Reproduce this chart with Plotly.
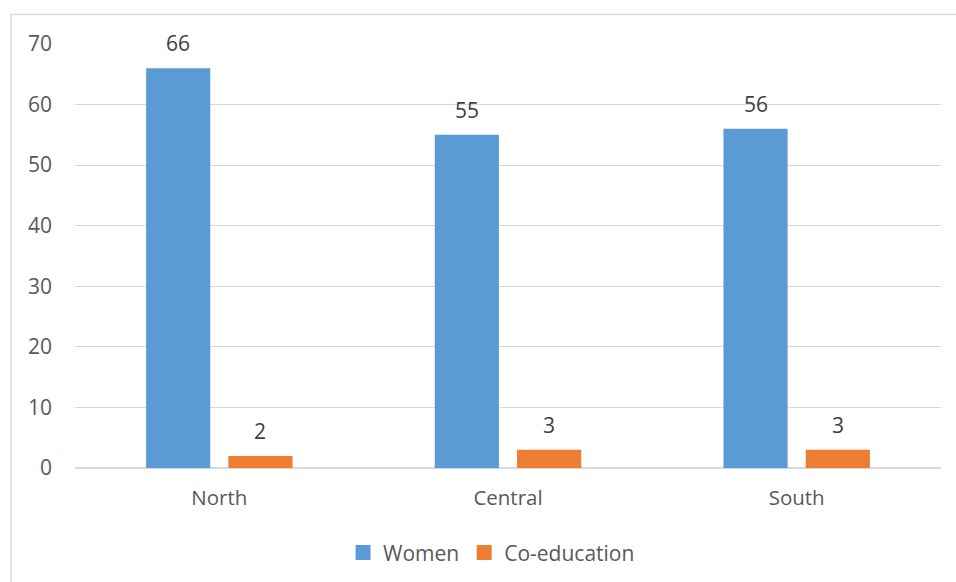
import plotly.graph_objects as go

regions = ["North", "Central", "South"]
women = [66, 55, 56]
coeducation = [2, 3, 3]
y_ticks = [0, 10, 20, 30, 40, 50, 60, 70]

FONT = "Open Sans"
TICK_COLOR = "#595959"
LABEL_COLOR = "#404040"
GRID = "#d9d9d9"
BLUE = "#5B9BD5"
ORANGE = "#ED7D31"

fig = go.Figure()
fig.add_trace(go.Bar(name="Women", x=regions, y=women, showlegend=False,
                     marker=dict(color=BLUE, line=dict(width=0))))
fig.add_trace(go.Bar(name="Co-education", x=regions, y=coeducation, showlegend=False,
                     marker=dict(color=ORANGE, line=dict(width=0))))

# legend entries with larger square swatches
for name, color in (("Women", BLUE), ("Co-education", ORANGE)):
    fig.add_trace(go.Scatter(x=[None], y=[None], mode="markers", name=name,
                             marker=dict(symbol="square", size=15, color=color)))

# value labels above each bar
annotations = []
for series, shift in ((women, -41), (coeducation, 41)):
    for cat, val in zip(regions, series):
        annotations.append(dict(x=cat, y=val, xref="x", yref="y", text=str(val),
                                showarrow=False, xshift=shift, yshift=25,
                                font=dict(family=FONT, size=21, color=LABEL_COLOR)))

fig.update_layout(
    width=956, height=582,
    margin=dict(l=75, r=15, t=44, b=114, pad=0, autoexpand=False),
    paper_bgcolor="white", plot_bgcolor="white",
    barmode="group", bargap=0.43, bargroupgap=0.22,
    font=dict(family=FONT, size=21, color=TICK_COLOR),
    showlegend=True,
    legend=dict(orientation="h", x=0.481, xanchor="center", y=-0.2, yanchor="middle",
                font=dict(family=FONT, size=21, color=TICK_COLOR),
                itemwidth=30, tracegroupgap=0, bgcolor="rgba(0,0,0,0)"),
    annotations=annotations,
    shapes=[dict(type="rect", xref="paper", yref="paper",
                 x0=-0.0739, x1=1.3, y0=-0.6, y1=1.0696,
                 line=dict(color=GRID, width=1.5), fillcolor="rgba(0,0,0,0)", layer="below")],
)
fig.update_xaxes(showgrid=False, showline=True, linecolor=GRID, linewidth=1, automargin=False,
                 ticks="", tickfont=dict(size=20.5, color=TICK_COLOR), ticklabelstandoff=11)
fig.update_yaxes(range=[0, 70], tickvals=y_ticks, showgrid=True, gridcolor=GRID, gridwidth=1,
                 zeroline=True, zerolinecolor=GRID, showline=False, ticks="", automargin=False,
                 tickfont=dict(size=21, color=TICK_COLOR), ticklabelstandoff=22)

fig.write_html("out.html")
